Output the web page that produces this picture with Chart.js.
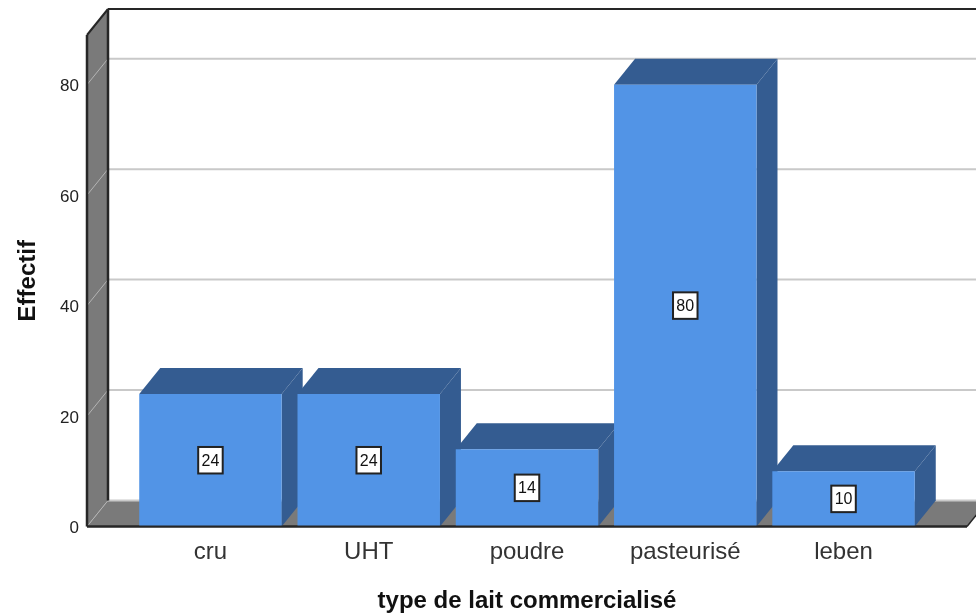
<!DOCTYPE html>
<html><head><meta charset="utf-8">
<style>html,body{margin:0;padding:0;background:#fff}#w{width:976px;height:614px}</style>
<script src="https://cdn.jsdelivr.net/npm/chart.js@4"></script></head>
<body><div id="w"><canvas id="c"></canvas></div>
<script>
const categories = ["cru","UHT","poudre","pasteurisé","leben"];
const counts = [24,24,14,80,10];
const yTicks = [0,20,40,60,80];
const xTitle = "type de lait commercialisé";
const yTitle = "Effectif";

const DX = 21, DY = -26;
const FRONT = "#5294E6", DARK = "#345C91", WALL = "#7A7A7A", LINE = "#262626", GRID = "#C9C9C9";
const FONT = "'Liberation Sans', Arial, sans-serif";

function poly(ctx, pts, fill){
  ctx.beginPath(); pts.forEach((p,i)=> i?ctx.lineTo(p[0],p[1]):ctx.moveTo(p[0],p[1])); ctx.closePath();
  ctx.fillStyle = fill; ctx.fill();
}
function seg(ctx,x1,y1,x2,y2,color,w){
  ctx.beginPath(); ctx.moveTo(x1,y1); ctx.lineTo(x2,y2); ctx.strokeStyle=color; ctx.lineWidth=w; ctx.stroke();
}
const box3d = {
  id:"box3d",
  beforeDatasetsDraw(chart){
    const {ctx, chartArea:a, scales:{y}} = chart;
    ctx.save();
    const L=a.left, R=a.right, T=a.top, B=a.bottom;
    poly(ctx,[[L,T],[L+DX,T+DY],[L+DX,B+DY],[L,B]],WALL);
    poly(ctx,[[L,B],[L+DX,B+DY],[R+DX,B+DY],[R,B]],WALL);
    yTicks.forEach(v=>{
      const py=y.getPixelForValue(v);
      seg(ctx,L+DX,py+DY,R+DX,py+DY,GRID,2);
      seg(ctx,L,py,L+DX,py+DY,"#B4B4B4",1);
    });
    seg(ctx,L,T,L,B,LINE,2.5);
    seg(ctx,L+DX,T+DY,L+DX,B+DY,LINE,2.5);
    seg(ctx,L,T,L+DX,T+DY,LINE,2);
    seg(ctx,L+DX,T+DY,R+DX,T+DY,LINE,2);
    seg(ctx,L,B,R,B,LINE,2);
    seg(ctx,R,B,R+DX,B+DY,LINE,1.5);
    chart.getDatasetMeta(0).data.forEach(bar=>{
      const p=bar.getProps(["x","y","base","width"],true);
      const l=p.x-p.width/2, r=p.x+p.width/2;
      poly(ctx,[[l,p.y],[l+DX,p.y+DY],[r+DX,p.y+DY],[r,p.y]],DARK);
      poly(ctx,[[r,p.y],[r+DX,p.y+DY],[r+DX,p.base+DY],[r,p.base]],DARK);
    });
    ctx.restore();
  },
  afterDatasetsDraw(chart){
    const {ctx, chartArea:a}=chart;
    ctx.save();
    chart.getDatasetMeta(0).data.forEach((bar,i)=>{
      const p=bar.getProps(["x","y","base"],true);
      const cy=(p.y+p.base)/2, w=24.5, h=26.5;
      ctx.fillStyle="#fff"; ctx.strokeStyle="#222"; ctx.lineWidth=2;
      ctx.fillRect(p.x-w/2,cy-h/2,w,h); ctx.strokeRect(p.x-w/2,cy-h/2,w,h);
      ctx.fillStyle="#111"; ctx.font="16px "+FONT; ctx.textAlign="center"; ctx.textBaseline="middle";
      ctx.fillText(String(counts[i]),p.x,cy+1);
    });
    seg(ctx,a.left,a.bottom,a.right,a.bottom,LINE,2);
    ctx.restore();
  }
};
new Chart(document.getElementById("c"),{
  type:"bar",
  data:{datasets:[{
    data:counts.map((v,i)=>({x:i,y:v})),
    backgroundColor:FRONT, borderWidth:0,
    barPercentage:0.9, categoryPercentage:1
  }]},
  plugins:[box3d],
  options:{
    responsive:true, maintainAspectRatio:false, animation:false,
    layout:{padding:{top:35,right:9,left:0,bottom:0}},
    plugins:{legend:{display:false},tooltip:{enabled:false}},
    scales:{
      x:{type:"linear",offset:false,min:-0.78,max:4.78,
        grid:{display:false,offset:false},border:{display:false},
        afterFit(s){s.height=87.5;},
        ticks:{stepSize:1,includeBounds:false,autoSkip:false,maxRotation:0,padding:3,
          color:"#333",font:{family:FONT,size:24},
          callback:v=>categories[v]},
        title:{display:true,text:xTitle,color:"#111",font:{family:FONT,size:24,weight:"bold"},padding:{top:0,bottom:-2}}
      },
      y:{min:0,max:89,
        grid:{display:false},border:{display:false},
        afterFit(s){s.width=87;},
        ticks:{stepSize:20,includeBounds:false,padding:0,labelOffset:2,color:"#222",font:{family:FONT,size:17}},
        title:{display:true,text:yTitle,color:"#111",font:{family:FONT,size:24,weight:"bold"},padding:{top:14,bottom:0}}
      }
    }
  }
});
</script></body></html>
